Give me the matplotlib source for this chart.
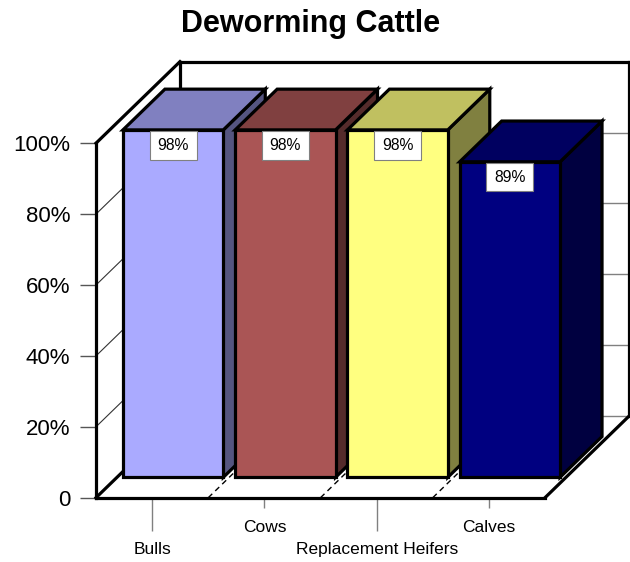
import matplotlib
matplotlib.use("Agg")
import matplotlib.pyplot as plt
from matplotlib.patches import Polygon
from matplotlib.path import Path

# ---------------- data ----------------
categories = ['Bulls', 'Cows', 'Replacement Heifers', 'Calves']
values = [98, 98, 98, 89]
value_labels = ['98%', '98%', '98%', '89%']
front_colors = ['#AAAAFF', '#AA5555', '#FFFF80', '#000080']
top_colors = ['#8080C0', '#804040', '#C0C060', '#000060']
side_colors = ['#555580', '#552B2B', '#808040', '#000040']
y_ticks = [0, 20, 40, 60, 80, 100]
y_tick_labels = ['0', '20%', '40%', '60%', '80%', '100%']
title = 'Deworming Cattle'

plt.rcParams['font.family'] = ['Liberation Sans', 'DejaVu Sans']

W, H, DPI = 630, 562, 100
fig = plt.figure(figsize=(W / DPI, H / DPI), dpi=DPI)
# axes: data (0,0) -> px (96, 497.7); (4,100) -> px (545, 143.2)
ax = fig.add_axes([96 / W, (H - 497.7) / H, 449 / W, (497.7 - 143.2) / H])
n = len(categories)
ax.set_xlim(0, n)
ax.set_ylim(0, 100)
for s in ax.spines.values():
    s.set_visible(False)
ax.patch.set_visible(False)

DX, DY = 0.748, 23.0          # full depth offset in data units
D0, D1 = 0.25, 0.75           # bar depth range
HALF = 0.447                  # half bar width
YMAX = 100


def P(x, y, d):
    return (x + d * DX, y + d * DY)


LW = 2.3
FLW = 2.3
z = 1


def poly(pts, fc, ec='black', lw=LW):
    global z
    z += 1
    p = Polygon(pts, closed=True, facecolor=fc, edgecolor=ec, linewidth=lw,
                joinstyle='miter', clip_on=False, zorder=z)
    ax.add_patch(p)


def line(p1, p2, **kw):
    global z
    z += 1
    ax.plot([p1[0], p2[0]], [p1[1], p2[1]], clip_on=False, zorder=z,
            solid_capstyle='projecting', **kw)


PADX, PADY = 0.50, 0.44


def label_box(x0, y0, width, height, mutation_size):
    px, py = PADX * mutation_size, PADY * mutation_size
    xa, ya, xb, yb = x0 - px, y0 - py, x0 + width + px, y0 + height + py
    return Path([(xa, ya), (xb, ya), (xb, yb), (xa, yb), (xa, ya)],
                [Path.MOVETO, Path.LINETO, Path.LINETO, Path.LINETO, Path.CLOSEPOLY])


LABEL_FS = 11.3

# back wall, left wall, floor
poly([P(0, 0, 1), P(n, 0, 1), P(n, YMAX, 1), P(0, YMAX, 1)], 'white', ec='none', lw=0)
poly([P(0, 0, 0), P(0, 0, 1), P(0, YMAX, 1), P(0, YMAX, 0)], 'white', ec='none', lw=0)
poly([P(0, 0, 0), P(n, 0, 0), P(n, 0, 1), P(0, 0, 1)], 'white', ec='none', lw=0)

# gridlines
for v in y_ticks[1:-1]:
    line(P(0, v, 1), P(n, v, 1), color='#808080', lw=1.0)
    line(P(0, v, 0), P(0, v, 1), color='#333333', lw=0.8)
line(P(0, 0, 1), P(n, 0, 1), color='#808080', lw=1.0)

# dashed category separators on the floor
for i in range(1, n):
    line(P(i, 0, 0), P(i, 0, 1), color='black', lw=1.0, linestyle=(0, (4, 3)))

# frame edges
line(P(0, 0, 1), P(0, YMAX, 1), color='black', lw=FLW)
line(P(0, YMAX, 1), P(n, YMAX, 1), color='black', lw=FLW)
line(P(n, YMAX, 1), P(n, 0, 1), color='black', lw=FLW)
line(P(0, YMAX, 0), P(0, YMAX, 1), color='black', lw=FLW)
line(P(0, 0, 0), P(0, 0, 1), color='black', lw=FLW)

# bars
for i, (v, lab) in enumerate(zip(values, value_labels)):
    c = i + 0.5
    x0, x1 = c - HALF, c + HALF
    poly([P(x1, 0, D0), P(x1, 0, D1), P(x1, v, D1), P(x1, v, D0)], side_colors[i])
    poly([P(x0, v, D0), P(x1, v, D0), P(x1, v, D1), P(x0, v, D1)], top_colors[i])
    poly([P(x0, 0, D0), P(x1, 0, D0), P(x1, v, D0), P(x0, v, D0)], front_colors[i])
    z += 1
    ax.annotate(lab, xy=P(c, v, D0), xytext=(0, -PADY * LABEL_FS - 0.6),
                textcoords='offset points',
                ha='center', va='top', fontsize=LABEL_FS, color='black', zorder=z,
                annotation_clip=False,
                bbox=dict(boxstyle=label_box, fc='white', ec='#808080', lw=0.8))

# front axis lines (drawn last to sit on top)
z += 50
line(P(0, 0, 0), P(0, YMAX, 0), color='black', lw=FLW)
line(P(0, 0, 0), P(n, 0, 0), color='black', lw=FLW)
line(P(n, 0, 0), P(n, 0, 1), color='black', lw=FLW)

# y ticks
ax.set_yticks(y_ticks, labels=y_tick_labels)
ax.tick_params(axis='y', length=11.5, width=1.0, color='#555555', pad=7,
               labelsize=16, labelcolor='black')

# x ticks: alternating long/short
major_idx = list(range(0, n, 2))
minor_idx = list(range(1, n, 2))
ax.set_xticks([i + 0.5 for i in major_idx], labels=[categories[i] for i in major_idx])
ax.set_xticks([i + 0.5 for i in minor_idx], labels=[categories[i] for i in minor_idx], minor=True)
ax.tick_params(axis='x', which='major', length=23.5, width=1.0, color='#808080', pad=8.5,
               labelsize=12.5)
ax.tick_params(axis='x', which='minor', length=7.5, width=1.0, color='#808080', pad=8.5,
               labelsize=12.5)

fig.text(311 / W, (H - 32.3) / H, title, ha='center', va='baseline',
         fontsize=22, fontweight='bold')

fig.savefig('out.png', dpi=DPI)
